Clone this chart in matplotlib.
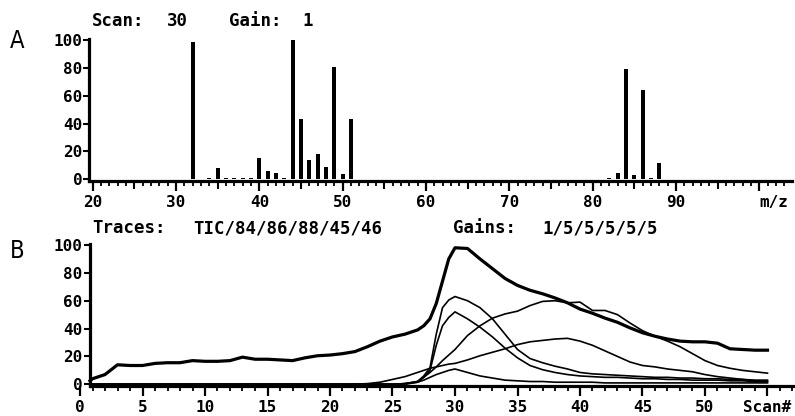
import matplotlib.pyplot as plt
from matplotlib.ticker import MultipleLocator

# --- panel A: mass spectrum at scan 30 ---
mz = [32, 34, 35, 36, 37, 38, 39, 40, 41, 42, 43, 44, 45, 46, 47, 48, 49, 50, 51,
      82, 83, 84, 85, 86, 87, 88]
intensity = [98.5, 1, 8, 1, 1, 1, 1, 15, 6, 4.5, 1, 100, 43, 14, 18, 9, 80.5, 4, 43,
             1, 4.3, 79.5, 3, 64, 1, 11.5]
mz_ticks = [20, 30, 40, 50, 60, 70, 80, 90, 100]
mz_labels = ['20', '30', '40', '50', '60', '70', '80', '90', 'm/z']

# --- panel B: ion traces vs scan number ---
scan_no = [0.8, 1, 2, 3, 4, 5, 6, 7, 8, 9, 10, 11, 12, 13, 14, 15, 16, 17, 18, 19, 20,
           21, 22, 23, 24, 25, 26, 27, 27.5, 28, 28.5, 29, 29.5, 30, 31, 32, 33, 34, 35,
           36, 37, 38, 39, 40, 41, 42, 43, 44, 45, 46, 47, 48, 49, 50, 51, 52, 53, 54, 55]
tic = [2.5, 4, 7, 14, 13.5, 13.5, 15, 15.5, 15.5, 17, 16.5, 16.5, 17, 19.5, 18, 18, 17.5,
       17, 19, 20.5, 21, 22, 23.5, 27, 31, 34, 36, 39, 42, 47, 58, 74, 90, 98, 97.5, 90,
       83, 76, 71, 67.5, 65, 62, 58.5, 54, 51, 47.5, 44.5, 40.5, 37, 34.5, 32.5, 31, 30.5,
       30.5, 29.5, 25.5, 25, 24.5, 24.5]
ion_84 = [0, 0, 0, 0, 0, 0, 0, 0, 0, 0, 0, 0, 0, 0, 0, 0, 0, 0, 0, 0, 0, 0, 0, 0, 0, 0,
          0.5, 2, 6, 12, 36, 55, 60.5, 63, 60, 55, 47, 36, 25, 18.5, 15.5, 13, 11, 8.5,
          7.5, 7, 6.5, 6, 5.5, 5, 5, 4.5, 4.5, 4, 4, 3.5, 3.5, 3, 3]
ion_86 = [0, 0, 0, 0, 0, 0, 0, 0, 0, 0, 0, 0, 0, 0, 0, 0, 0, 0, 0, 0, 0, 0, 0, 0, 0, 0,
          0.5, 1.5, 5, 10, 28, 42, 48, 52, 47, 41, 34, 26, 19, 13.5, 10.5, 8.5, 7, 6,
          5.5, 5, 5, 4.5, 4, 4, 3.5, 3.5, 3, 3, 3, 2.5, 2.5, 2, 2]
ion_88 = [0, 0, 0, 0, 0, 0, 0, 0, 0, 0, 0, 0, 0, 0, 0, 0, 0, 0, 0, 0, 0, 0, 0, 0, 0, 0,
          0, 1.5, 3, 5, 7, 8.5, 10, 11, 8.5, 6, 4.5, 3, 2.5, 2, 2, 1.5, 1.5, 1.5, 1.5,
          1, 1, 1, 1, 1, 1, 1, 1, 1, 1, 1, 1, 1, 1]
ion_45 = [0, 0, 0, 0, 0, 0, 0, 0, 0, 0, 0, 0, 0, 0, 0, 0, 0, 0, 0, 0, 0, 0, 0, 0, 0, 0,
          0.5, 2, 5, 8.5, 12.5, 17, 21, 25, 35, 42, 47.5, 50.5, 52.5, 56.5, 59.5, 60,
          58.5, 59, 53, 53, 50, 44, 38.5, 34.5, 31, 27, 22, 17, 13.5, 11.5, 10, 9, 8]
ion_46 = [0, 0, 0, 0, 0, 0, 0, 0, 0, 0, 0, 0, 0, 0, 0, 0, 0, 0, 0, 0, 0, 0, 0, 0.5, 1.5,
          3.5, 5.5, 8.5, 10, 11.5, 12.5, 13.5, 14.5, 15, 17.5, 20.5, 23, 25.5, 28.5, 30.5,
          31.5, 32.5, 33, 31, 28, 24, 20, 16, 13.5, 12.5, 11, 10, 9, 7, 5.5, 4.5, 3.5,
          2.5, 2]
scan_ticks = [0, 5, 10, 15, 20, 25, 30, 35, 40, 45, 50, 55]
scan_labels = ['0', '5', '10', '15', '20', '25', '30', '35', '40', '45', '50', 'Scan#']
y_ticks = [0, 20, 40, 60, 80, 100]

plt.rcParams['font.family'] = 'DejaVu Sans Mono'
plt.rcParams['font.weight'] = 'bold'

W, H = 795, 416
fig = plt.figure(figsize=(W / 100, H / 100), dpi=100)


def style_axes(ax):
    for side in ['top', 'right']:
        ax.spines[side].set_visible(False)
    for side in ['left', 'bottom']:
        ax.spines[side].set_linewidth(2.3)
    ax.set_yticks(y_ticks)
    ax.tick_params(axis='y', length=4, width=1.5, pad=1, labelsize=11.5)
    ax.tick_params(axis='x', which='major', length=7, width=1.6, pad=3, labelsize=11.5)
    ax.tick_params(axis='x', which='minor', length=3.5, width=1.3)
    ax.set_ylim(-1, 101)


# panel A
ax_a = fig.add_axes([89.4 / W, 1 - 180.7 / H, 702.4 / W, 142.1 / H])
ax_a.bar(mz, intensity, width=0.5, color='black')
ax_a.set_xlim(19.6, 103.9)
style_axes(ax_a)
ax_a.set_xticks(mz_ticks, labels=mz_labels)
ax_a.xaxis.set_minor_locator(MultipleLocator(1))
ax_a.get_xticklabels()[-1].set_horizontalalignment('left')
sec = ax_a.secondary_xaxis('bottom')
sec.set_xticks([25, 35, 45, 55, 65, 75, 85, 95], labels=[''] * 8)
sec.tick_params(length=5.5, width=1.5)
sec.spines['bottom'].set_visible(False)

# panel B
ax_b = fig.add_axes([80 / W, 1 - 385.7 / H, 715 / W, 142.1 / H])
ax_b.plot(scan_no, ion_88, color='black', lw=1.2)
ax_b.plot(scan_no, ion_46, color='black', lw=1.2)
ax_b.plot(scan_no, ion_45, color='black', lw=1.2)
ax_b.plot(scan_no, ion_86, color='black', lw=1.2)
ax_b.plot(scan_no, ion_84, color='black', lw=1.2)
ax_b.plot(scan_no, tic, color='black', lw=2.3)
ax_b.set_xlim(0, 57.2)
style_axes(ax_b)
ax_b.spines['left'].set_position(('data', 0.76))
ax_b.spines['bottom'].set_bounds(0.76, 57.2)
ax_b.set_xticks(scan_ticks, labels=scan_labels)
ax_b.xaxis.set_minor_locator(MultipleLocator(1))

# headers
fig.text(92 / W, 1 - 26 / H, 'Scan:', fontsize=12.5, ha='left', va='baseline')
fig.text(167 / W, 1 - 26 / H, '30', fontsize=12.5, ha='left', va='baseline')
fig.text(229 / W, 1 - 26 / H, 'Gain:', fontsize=12.5, ha='left', va='baseline')
fig.text(302 / W, 1 - 26 / H, '1', fontsize=12.5, ha='left', va='baseline')
fig.text(92 / W, 1 - 233.5 / H, 'Traces:', fontsize=12.5, ha='left', va='baseline')
fig.text(193 / W, 1 - 233.5 / H, 'TIC/84/86/88/45/46', fontsize=12.5, ha='left', va='baseline')
fig.text(453 / W, 1 - 233.5 / H, 'Gains:', fontsize=12.5, ha='left', va='baseline')
fig.text(542 / W, 1 - 233.5 / H, '1/5/5/5/5/5', fontsize=12.5, ha='left', va='baseline')

# panel letters
fig.text(17.5 / W, 1 - 48.3 / H, 'A', fontsize=17, fontweight='normal', family='DejaVu Sans',
         fontstretch='condensed', ha='center', va='baseline')
fig.text(17.5 / W, 1 - 258.3 / H, 'B', fontsize=17, fontweight='normal', family='DejaVu Sans',
         fontstretch='condensed', ha='center', va='baseline')

fig.savefig('out.png', dpi=100)
